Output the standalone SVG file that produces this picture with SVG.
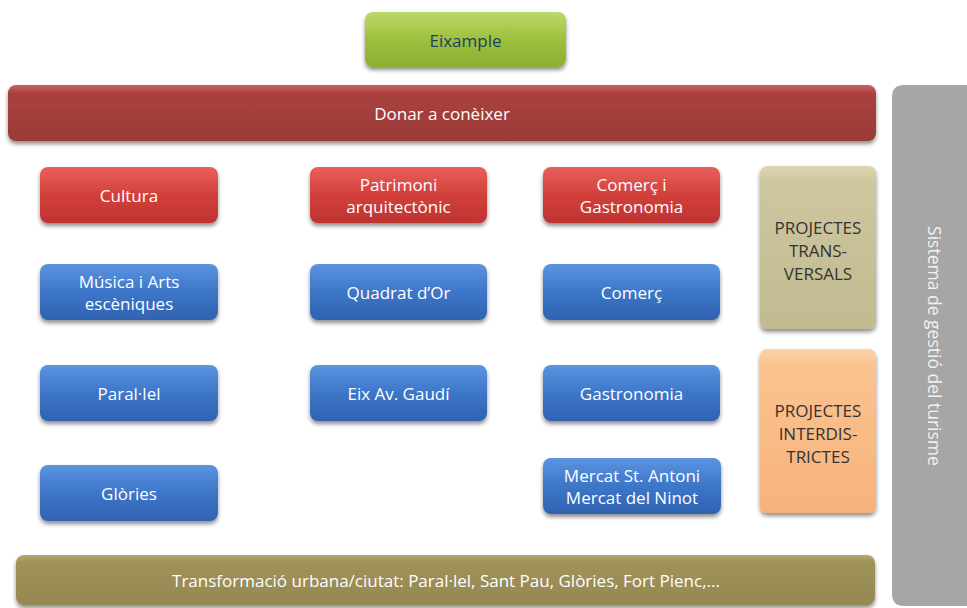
<svg xmlns="http://www.w3.org/2000/svg" width="967" height="608" viewBox="0 0 967 608">
<defs>
<filter id="sh" x="-10%" y="-20%" width="120%" height="150%">
<feGaussianBlur in="SourceAlpha" stdDeviation="2"/>
<feOffset dx="0" dy="2.5" result="b"/>
<feComponentTransfer><feFuncA type="linear" slope="0.45"/></feComponentTransfer>
<feMerge><feMergeNode/><feMergeNode in="SourceGraphic"/></feMerge>
</filter>
<linearGradient id="gGreen" x1="0" y1="0" x2="0" y2="1"><stop offset="0" stop-color="#bcd86a"/><stop offset="0.5" stop-color="#9dc03e"/><stop offset="1" stop-color="#8caf32"/></linearGradient>
<linearGradient id="gDRed" x1="0" y1="0" x2="0" y2="1"><stop offset="0" stop-color="#c96461"/><stop offset="0.15" stop-color="#a8413e"/><stop offset="1" stop-color="#9b3a37"/></linearGradient>
<linearGradient id="gRed" x1="0" y1="0" x2="0" y2="1"><stop offset="0" stop-color="#e8605c"/><stop offset="0.5" stop-color="#d33f3b"/><stop offset="1" stop-color="#bd3431"/></linearGradient>
<linearGradient id="gBlue" x1="0" y1="0" x2="0" y2="1"><stop offset="0" stop-color="#5b94df"/><stop offset="0.5" stop-color="#3d76c9"/><stop offset="1" stop-color="#2f63b0"/></linearGradient>
<linearGradient id="gTan" x1="0" y1="0" x2="0" y2="1"><stop offset="0" stop-color="#ddd6b2"/><stop offset="0.1" stop-color="#cdc69f"/><stop offset="1" stop-color="#c2ba90"/></linearGradient>
<linearGradient id="gOr" x1="0" y1="0" x2="0" y2="1"><stop offset="0" stop-color="#fdd3a8"/><stop offset="0.1" stop-color="#fbc38f"/><stop offset="1" stop-color="#f7b27c"/></linearGradient>
<linearGradient id="gOl" x1="0" y1="0" x2="0" y2="1"><stop offset="0" stop-color="#b5a86a"/><stop offset="0.15" stop-color="#a0935a"/><stop offset="1" stop-color="#948752"/></linearGradient>
</defs>
<style>
text{font-family:"Open Sans","Noto Sans","Liberation Sans",sans-serif;font-size:17px;text-anchor:middle;dominant-baseline:central}
.w{fill:#ffffff}
.d{fill:#333333}
.box{filter:url(#sh)}
</style>
<rect width="967" height="608" fill="#ffffff"/>
<g id="gestio">
<path d="M892,97 Q892,85 904,85 L967,85 L967,606 L904,606 Q892,606 892,594 Z" fill="#a6a6a6"/>
<text transform="translate(935,346) rotate(90)" fill="#f2f2f2" style="font-size:17.5px">Sistema de gestió del turisme</text>
</g>
<g id="eixample"><rect class="box" x="365" y="12" width="201" height="55" rx="8" fill="url(#gGreen)"/><text x="465.5" y="40" fill="#1f3f66">Eixample</text></g>
<g id="donar"><rect class="box" x="8" y="85" width="868" height="56" rx="8" fill="url(#gDRed)"/><text class="w" x="442" y="113">Donar a conèixer</text></g>
<g id="cultura"><rect class="box" x="40" y="167" width="178" height="56" rx="8" fill="url(#gRed)"/><text class="w" x="129" y="195">Cultura</text></g>
<g id="patrimoni"><rect class="box" x="310" y="167" width="177" height="56" rx="8" fill="url(#gRed)"/><text class="w" x="398.5" y="184.5">Patrimoni</text><text class="w" x="398.5" y="206.5">arquitectònic</text></g>
<g id="comerc-gastro"><rect class="box" x="543" y="167" width="177" height="56" rx="8" fill="url(#gRed)"/><text class="w" x="631.5" y="184.5">Comerç i</text><text class="w" x="631.5" y="206.5">Gastronomia</text></g>
<g id="musica"><rect class="box" x="40" y="264" width="178" height="56" rx="8" fill="url(#gBlue)"/><text class="w" x="129" y="281.5">Música i Arts</text><text class="w" x="129" y="303.5">escèniques</text></g>
<g id="quadrat"><rect class="box" x="310" y="264" width="177" height="56" rx="8" fill="url(#gBlue)"/><text class="w" x="398.5" y="292">Quadrat d’Or</text></g>
<g id="comerc"><rect class="box" x="543" y="264" width="177" height="56" rx="8" fill="url(#gBlue)"/><text class="w" x="631.5" y="292">Comerç</text></g>
<g id="parallel"><rect class="box" x="40" y="365" width="178" height="56" rx="8" fill="url(#gBlue)"/><text class="w" x="129" y="393">Paral·lel</text></g>
<g id="gaudi"><rect class="box" x="310" y="365" width="177" height="56" rx="8" fill="url(#gBlue)"/><text class="w" x="398.5" y="393">Eix Av. Gaudí</text></g>
<g id="gastronomia"><rect class="box" x="543" y="365" width="177" height="56" rx="8" fill="url(#gBlue)"/><text class="w" x="631.5" y="393">Gastronomia</text></g>
<g id="glories"><rect class="box" x="40" y="465" width="178" height="56" rx="8" fill="url(#gBlue)"/><text class="w" x="129" y="493">Glòries</text></g>
<g id="mercat"><rect class="box" x="543" y="458" width="178" height="56" rx="8" fill="url(#gBlue)"/><text class="w" x="632" y="475">Mercat St. Antoni</text><text class="w" x="632" y="497">Mercat del Ninot</text></g>
<g id="transversals"><rect class="box" x="760" y="166" width="116" height="163" rx="7" fill="url(#gTan)"/><text class="d" x="818" y="227">PROJECTES</text><text class="d" x="818" y="250">TRANS-</text><text class="d" x="818" y="273">VERSALS</text></g>
<g id="interdistrictes"><rect class="box" x="760" y="349" width="116" height="164" rx="7" fill="url(#gOr)"/><text class="d" x="818" y="410">PROJECTES</text><text class="d" x="818" y="433">INTERDIS-</text><text class="d" x="818" y="456">TRICTES</text></g>
<g id="transformacio"><rect class="box" x="16" y="555" width="859" height="50" rx="8" fill="url(#gOl)"/><text class="w" x="446" y="580">Transformació urbana/ciutat: Paral·lel, Sant Pau, Glòries, Fort Pienc,...</text></g>
<g id="connectors"/>
</svg>
